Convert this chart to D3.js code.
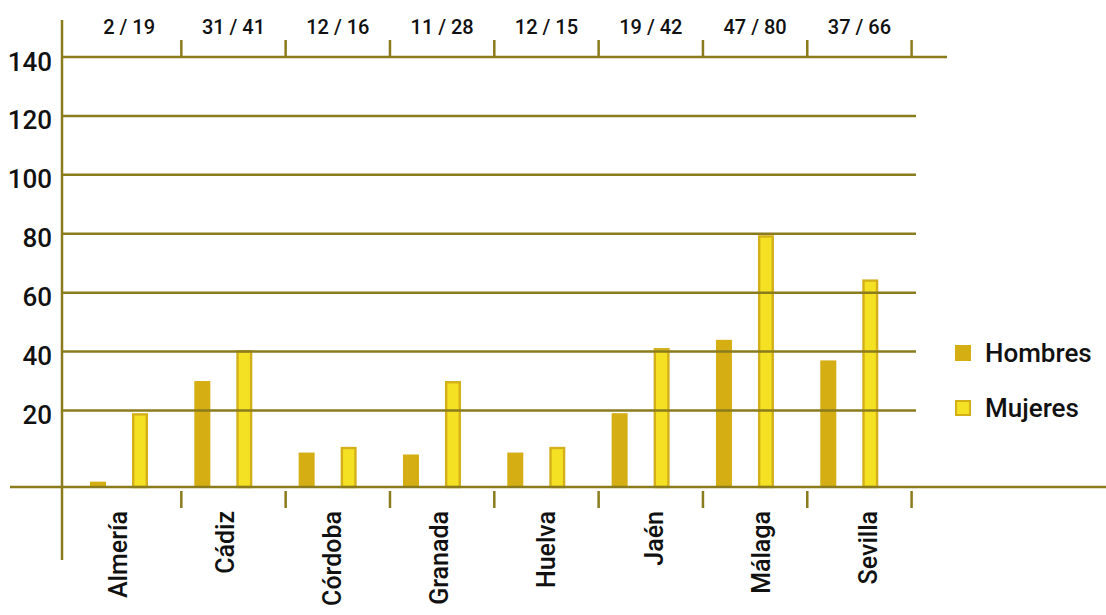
<!DOCTYPE html>
<html>
<head>
<meta charset="utf-8">
<script src="https://cdn.jsdelivr.net/npm/d3@7"></script>
<style>
  body { margin: 0; background: #fff; }
  text { font-family: Roboto, "Liberation Sans", Arial, sans-serif; font-weight: 500; fill: #111; }
</style>
</head>
<body>
<svg id="chart" width="1106" height="615"></svg>
<script>
// data
let provincias = ["Almería", "Cádiz", "Córdoba", "Granada", "Huelva", "Jaén", "Málaga", "Sevilla"];
let hombres = [1.4, 30, 9, 8.5, 9, 19.3, 44, 37];
let mujeres = [19.3, 40.5, 10.5, 30, 10.5, 41.2, 79.5, 64.5];
let etiquetasArriba = ["2 / 19", "31 / 41", "12 / 16", "11 / 28", "12 / 15", "19 / 42", "47 / 80", "37 / 66"];
let yTicks = [20, 40, 60, 80, 100, 120, 140];
let series = ["Hombres", "Mujeres"];

let lineColor = "#8a7b1c";
let cHombres = "#d4ae12";
let cMujeres = "#f5e123";
let cMujeresBorde = "#d3b01a";

function drawChart() {
    let canvas = d3.select("#chart");

    let left = 62;
    let baseY = 487;

    let x = d3.scaleBand()
        .domain(provincias)
        .range([77, 911.6]);
    let xSub = d3.scaleBand()
        .domain(series)
        .range([13, 71])
        .paddingInner(0.619);
    // labels under the axis are spread a little wider than the bands
    let xLabel = d3.scaleBand()
        .domain(provincias)
        .range([64.5, 921.3]);
    // the gridlines are not evenly spaced down to zero
    let y = d3.scaleLinear()
        .domain([0, 20, 140])
        .range([baseY, 410.5, 57]);

    let data = provincias.map((p, i) => ({ p: p, Hombres: hombres[i], Mujeres: mujeres[i], label: etiquetasArriba[i] }));

    // bars
    let groups = canvas.selectAll(".prov").data(data).enter()
        .append("g")
        .attr("class", "prov")
        .attr("transform", d => "translate(" + x(d.p) + ",0)");

    groups.append("rect")
        .attr("x", xSub("Hombres"))
        .attr("width", xSub.bandwidth())
        .attr("y", d => y(d.Hombres))
        .attr("height", d => baseY - y(d.Hombres))
        .style("fill", cHombres);

    groups.append("rect")
        .attr("x", xSub("Mujeres") + 1.2)
        .attr("width", xSub.bandwidth() - 2.4)
        .attr("y", d => y(d.Mujeres) + 1.2)
        .attr("height", d => baseY - y(d.Mujeres) - 1.2)
        .style("fill", cMujeres)
        .style("stroke", cMujeresBorde)
        .style("stroke-width", 2.4);

    // gridlines on top of the bars
    canvas.selectAll(".grid").data(yTicks).enter()
        .append("line")
        .attr("x1", left)
        .attr("x2", d => d == 140 ? 947 : 916)
        .attr("y1", d => y(d))
        .attr("y2", d => y(d))
        .style("stroke", lineColor)
        .style("stroke-width", 2.5);

    // baseline
    canvas.append("line")
        .attr("x1", 10).attr("x2", 1106)
        .attr("y1", baseY).attr("y2", baseY)
        .style("stroke", lineColor)
        .style("stroke-width", 2.5);

    // y axis line
    canvas.append("line")
        .attr("x1", left).attr("x2", left)
        .attr("y1", 20).attr("y2", 560)
        .style("stroke", lineColor)
        .style("stroke-width", 2.5);

    let yAxis = d3.axisLeft(y)
        .tickValues(yTicks)
        .tickSize(0)
        .tickPadding(10);
    let yg = canvas.append("g")
        .attr("transform", "translate(" + left + ",0)")
        .call(yAxis);
    yg.select(".domain").remove();
    yg.selectAll("text")
        .attr("dy", "0.5em")
        .style("font-family", "Roboto, 'Liberation Sans', sans-serif")
        .style("font-weight", 500)
        .style("font-size", "26px")
        .style("fill", "#111");

    // boundary ticks, top and bottom
    let bounds = provincias.map(p => x(p) + x.step());
    canvas.selectAll(".tickTop").data(bounds).enter()
        .append("line")
        .attr("x1", d => d).attr("x2", d => d)
        .attr("y1", 40).attr("y2", y(140))
        .style("stroke", lineColor)
        .style("stroke-width", 2.5);
    canvas.selectAll(".tickBottom").data(bounds).enter()
        .append("line")
        .attr("x1", d => d).attr("x2", d => d)
        .attr("y1", 491).attr("y2", 508)
        .style("stroke", lineColor)
        .style("stroke-width", 2.5);

    // top labels
    let xTop = d3.axisTop(x)
        .tickSize(0)
        .tickFormat((p, i) => etiquetasArriba[i]);
    let tg = canvas.append("g")
        .attr("transform", "translate(0,34)")
        .call(xTop);
    tg.select(".domain").remove();
    tg.selectAll("text")
        .attr("y", 0)
        .attr("dy", 0)
        .style("font-family", "Roboto, 'Liberation Sans', sans-serif")
        .style("font-weight", 500)
        .style("font-size", "20px")
        .style("fill", "#111");

    // category labels
    canvas.selectAll(".catLabel").data(provincias).enter()
        .append("text")
        .attr("transform", p => "translate(" + (xLabel(p) + xLabel.bandwidth() / 2 + 9) + ",511) rotate(-90)")
        .attr("text-anchor", "end")
        .style("font-size", "25px")
        .text(p => p);

    // legend
    let legend = canvas.selectAll(".legend").data(series).enter()
        .append("g")
        .attr("transform", (s, i) => "translate(955," + (345 + i * 55) + ")");
    legend.append("rect")
        .attr("x", (s, i) => i == 1 ? 1 : 0)
        .attr("y", (s, i) => i == 1 ? 1 : 0)
        .attr("width", (s, i) => i == 1 ? 14 : 16)
        .attr("height", (s, i) => i == 1 ? 14 : 16)
        .style("fill", (s, i) => i == 0 ? cHombres : cMujeres)
        .style("stroke", (s, i) => i == 0 ? "none" : cMujeresBorde)
        .style("stroke-width", 2);
    legend.append("text")
        .attr("x", 30)
        .attr("y", 17)
        .style("font-size", "26px")
        .text(s => s);
}

drawChart();
</script>
</body>
</html>
